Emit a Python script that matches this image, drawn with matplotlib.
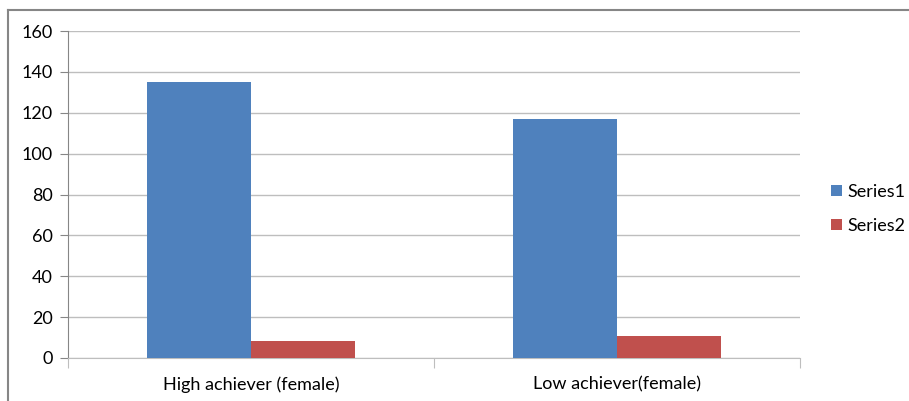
import matplotlib.pyplot as plt
import numpy as np
from matplotlib.lines import Line2D

categories = ["High achiever (female)", "Low achiever(female)"]
series1 = [135, 117]
series2 = [8.3, 10.8]
series_names = ["Series1", "Series2"]

plt.rcParams['font.family'] = ['Lato', 'DejaVu Sans']

W, H = 909, 401
fig = plt.figure(figsize=(W / 100, H / 100), dpi=100)
ax = fig.add_axes([68 / W, 1 - 358 / H, (800 - 68) / W, (358 - 31) / H])

x = np.arange(len(categories))
bw = 104 / 366
ax.bar(x - bw / 2, series1, bw, color="#4F81BD", label=series_names[0], zorder=3)
ax.bar(x + bw / 2, series2, bw, color="#C0504D", label=series_names[1], zorder=3)

ax.set_xlim(-0.5, 1.5)
ax.set_ylim(0, 160)
ax.set_yticks(range(0, 161, 20))
ax.yaxis.grid(True, color="#BEBEBE", linewidth=1, zorder=0)

for s in ["top", "right"]:
    ax.spines[s].set_visible(False)
ax.spines["left"].set_color("#868686")
ax.spines["bottom"].set_color("#BEBEBE")

ax.tick_params(axis="y", length=6, color="#868686", labelsize=13, pad=5)
ax.set_xticks([-0.5, 0.5, 1.5], minor=False)
ax.set_xticklabels([])
ax.tick_params(axis="x", which="major", length=7, color="#BEBEBE")
ax.set_xticks(x, minor=True)
ax.set_xticklabels(categories, minor=True)
ax.tick_params(axis="x", which="minor", length=0, labelsize=13, pad=13)

ax.legend(loc="center left", bbox_to_anchor=(831 / W, 1 - 209 / H), bbox_transform=fig.transFigure,
          frameon=False, fontsize=13, handlelength=0.6, handleheight=0.6, handletextpad=0.3,
          labelspacing=1.0, borderpad=0, borderaxespad=0)

# outer chart border (top and left edges only fall inside the image)
fig.add_artist(Line2D([8 / W, 8 / W], [0, 1 - 10 / H], transform=fig.transFigure, color="#868686", lw=1.5))
fig.add_artist(Line2D([8 / W, 1], [1 - 10 / H, 1 - 10 / H], transform=fig.transFigure, color="#868686", lw=1.5))

plt.savefig("out.png", dpi=100)
